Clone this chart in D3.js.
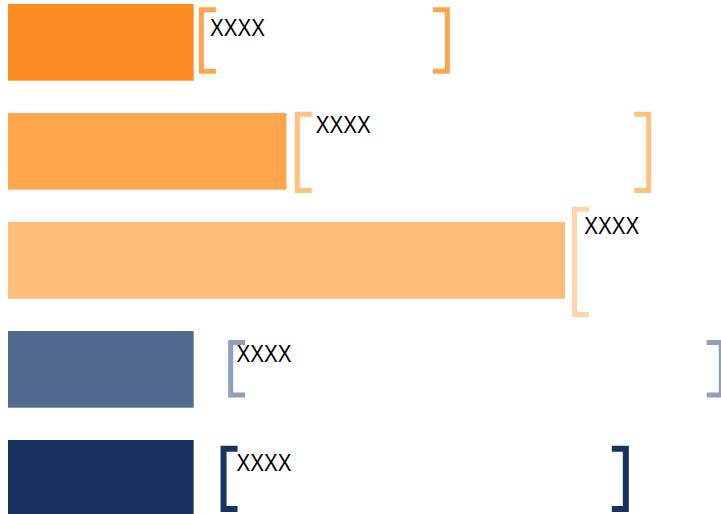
<!DOCTYPE html>
<html>
<head>
<meta charset="utf-8">
<script src="https://cdn.jsdelivr.net/npm/d3@7"></script>
<style>
  html, body { margin: 0; padding: 0; background: #fff; overflow: hidden; }
  svg { display: block; }
</style>
</head>
<body>
<svg id="chart" width="721" height="514"></svg>
<script>
// ---- data ----
const categories = ["A", "B", "C", "D", "E"];
const values = [2, 3, 6, 2, 2];
const rangeLow = [2.083, 3.116, 6.102, 2.399, 2.322];
const rangeHigh = [4.733, 6.902, 8.4, 7.683, 6.655];
const rangeTop = [0.043, -0.017, -0.199, 0.117, 0.074];
const rangeBottom = [0.909, 1.043, 1.238, 0.866, 0.939];
const labels = ["XXXX", "XXXX", "XXXX", "XXXX", "XXXX"];
const labelValue = [2.175, 3.315, 6.208, 2.462, 2.462];
const labelBaseline = [0.415, 0.26, 0.155, 0.41, 0.41];

// ---- styles ----
const barColors = ["#FF8C20", "#FFA64D", "#FFBB78", "#516B90", "#17335F"];
const bracketColors = ["#FFA64D", "#FFC080", "#FFD4A8", "#8FA0B8", "#17335F"];
const bracketWidths = [5, 5, 5, 5, 6];

const svg = d3.select("#chart");
const x = d3.scaleLinear().domain([0, 6]).range([8, 565]);
const y = d3.scaleBand().domain(categories).range([4, 516.7]).paddingInner(0.2963).paddingOuter(0);
const bw = y.bandwidth();
const armLen = 17;

const rows = categories.map((c, i) => ({
  c, v: values[i], lo: rangeLow[i], hi: rangeHigh[i],
  t: rangeTop[i], b: rangeBottom[i], label: labels[i],
  lx: labelValue[i], ly: labelBaseline[i],
  bar: barColors[i], br: bracketColors[i], sw: bracketWidths[i]
}));

svg.selectAll("rect.bar").data(rows).join("rect")
  .attr("class", "bar")
  .attr("x", x(0))
  .attr("y", d => y(d.c))
  .attr("width", d => x(d.v) - x(0))
  .attr("height", bw)
  .attr("fill", d => d.bar);

function leftPath(d) {
  const cx = x(d.lo), h = d.sw / 2;
  const top = y(d.c) + d.t * bw + h, bot = y(d.c) + d.b * bw - h;
  const end = cx - h + armLen;
  return `M${end},${top}H${cx}V${bot}H${end}`;
}
function rightPath(d) {
  const cx = x(d.hi), h = d.sw / 2;
  const top = y(d.c) + d.t * bw + h, bot = y(d.c) + d.b * bw - h;
  const end = cx + h - armLen;
  return `M${end},${top}H${cx}V${bot}H${end}`;
}

const g = svg.selectAll("g.bracket").data(rows).join("g").attr("class", "bracket");
g.append("path").attr("d", leftPath)
  .attr("fill", "none").attr("stroke", d => d.br).attr("stroke-width", d => d.sw)
  .attr("stroke-linejoin", "miter").attr("stroke-linecap", "butt");
g.append("path").attr("d", rightPath)
  .attr("fill", "none").attr("stroke", d => d.br).attr("stroke-width", d => d.sw)
  .attr("stroke-linejoin", "miter").attr("stroke-linecap", "butt");

svg.selectAll("text.lbl").data(rows).join("text")
  .attr("class", "lbl")
  .attr("x", d => x(d.lx))
  .attr("y", d => y(d.c) + d.ly * bw)
  .attr("font-family", "'Liberation Sans Narrow', 'Liberation Sans', Arial, sans-serif")
  .attr("font-size", 24)
  .attr("textLength", 55)
  .attr("lengthAdjust", "spacingAndGlyphs")
  .attr("fill", "#000")
  .text(d => d.label);
</script>
</body>
</html>
